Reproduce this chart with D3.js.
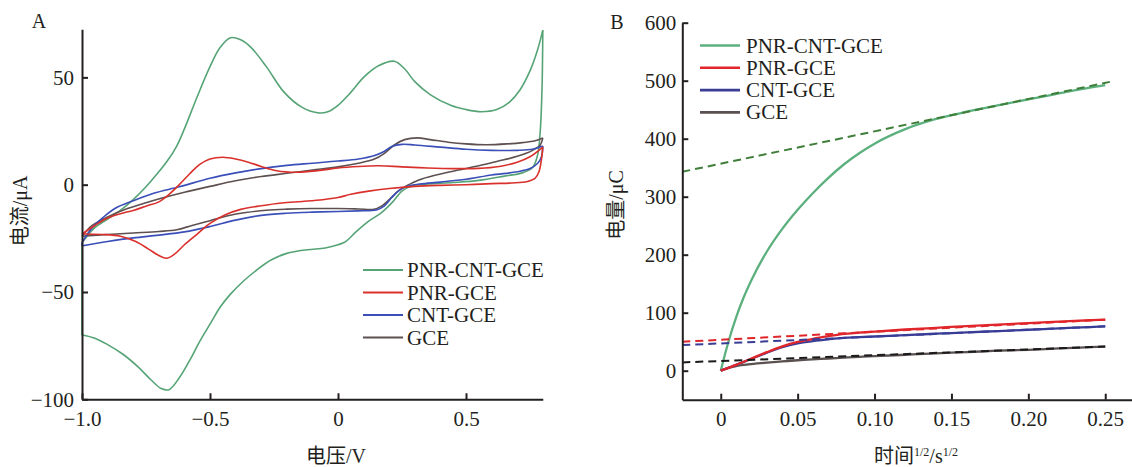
<!DOCTYPE html>
<html>
<head>
<meta charset="utf-8">
<script src="https://cdn.jsdelivr.net/npm/d3@7"></script>
<style>
  html, body { margin: 0; padding: 0; background: #ffffff; }
  svg { display: block; }
  text { font-family: "Liberation Serif", "Noto Sans CJK SC", serif; fill: #231f20; }
</style>
</head>
<body>
<svg id="chart" width="1132" height="467"></svg>
<script>
// ---------- Panel A: cyclic voltammograms (potential V, current µA) ----------
const seriesNames = ["PNR-CNT-GCE", "PNR-GCE", "CNT-GCE", "GCE"];

// anodic (forward) and cathodic (reverse) branches
const pnrCntFwd = [[-1.0,-27],[-0.95,-20],[-0.9,-16],[-0.85,-12],[-0.8,-7],[-0.75,-1],[-0.7,6],[-0.667,11],[-0.63,18],[-0.6,26],[-0.55,41],[-0.5,55],[-0.46,64],[-0.42,68.5],[-0.38,67.5],[-0.34,64],[-0.28,55],[-0.21,43],[-0.14,36],[-0.08,33.5],[-0.04,34],[0.0,37],[0.05,43],[0.1,50],[0.16,55.5],[0.22,57.5],[0.26,54],[0.3,48],[0.36,42],[0.44,37],[0.5,35],[0.56,34],[0.62,35],[0.67,38.5],[0.71,44],[0.75,53],[0.78,63],[0.8,72]];
const pnrCntRev = [[0.8,72],[0.797,45],[0.79,25],[0.78,14],[0.76,8],[0.72,5.5],[0.65,4],[0.55,2],[0.45,1],[0.35,0.3],[0.29,-0.5],[0.25,-3],[0.21,-8.5],[0.17,-13],[0.12,-17],[0.07,-22],[0.03,-26.5],[0.0,-28],[-0.05,-29.5],[-0.12,-30.3],[-0.2,-32],[-0.26,-35],[-0.32,-40],[-0.37,-45],[-0.42,-51],[-0.46,-57],[-0.5,-65],[-0.54,-73],[-0.58,-82],[-0.62,-90],[-0.66,-95.5],[-0.69,-95],[-0.73,-91],[-0.78,-85],[-0.84,-79],[-0.9,-74.5],[-0.95,-71.5],[-1.0,-70]];

const pnrFwd = [[-1.0,-23],[-0.95,-19],[-0.9,-15.5],[-0.85,-13.5],[-0.8,-12],[-0.75,-10],[-0.7,-8],[-0.66,-4.5],[-0.62,0],[-0.58,5],[-0.54,9.5],[-0.5,12],[-0.45,12.8],[-0.4,12],[-0.35,10.5],[-0.3,8.5],[-0.24,6.5],[-0.16,5.8],[-0.08,6.5],[0.0,7.8],[0.08,8.5],[0.16,8.8],[0.25,8.3],[0.35,7.8],[0.45,7.5],[0.55,7.6],[0.63,8.5],[0.7,10.5],[0.75,13],[0.8,17.5]];
const pnrRev = [[0.8,17.5],[0.795,12],[0.785,6],[0.77,3],[0.74,1.5],[0.68,0.8],[0.6,0.5],[0.5,0],[0.4,-0.3],[0.3,-0.8],[0.2,-1.8],[0.12,-3],[0.05,-4.5],[0.0,-6],[-0.06,-7],[-0.14,-7.8],[-0.22,-8.5],[-0.3,-9.8],[-0.38,-11.5],[-0.44,-14],[-0.5,-18],[-0.55,-23],[-0.6,-28],[-0.64,-32.5],[-0.67,-34.3],[-0.7,-33],[-0.74,-30],[-0.79,-26.5],[-0.85,-24],[-0.92,-23.2],[-1.0,-23]];

const cntFwd = [[-1.0,-27],[-0.96,-20],[-0.92,-15.5],[-0.87,-11],[-0.8,-7.5],[-0.72,-4],[-0.62,-1],[-0.5,3],[-0.4,5.5],[-0.3,7.5],[-0.2,9],[-0.1,10],[0.0,11],[0.08,12],[0.14,13.5],[0.18,15.5],[0.21,17.8],[0.25,18.8],[0.3,18.5],[0.4,17.5],[0.5,16.5],[0.6,16],[0.7,16],[0.76,16.5],[0.8,18]];
const cntRev = [[0.8,18],[0.795,13],[0.78,10],[0.75,7.5],[0.7,6],[0.6,4.5],[0.5,2.5],[0.4,1.2],[0.32,0.3],[0.27,-0.8],[0.24,-2.5],[0.21,-6],[0.18,-10],[0.15,-11.8],[0.08,-12.2],[0.0,-12.5],[-0.1,-12.8],[-0.2,-13.3],[-0.3,-14.3],[-0.4,-16.5],[-0.5,-19.5],[-0.6,-22],[-0.7,-23.5],[-0.8,-24.8],[-0.9,-26.5],[-1.0,-28.5]];

const gceFwd = [[-1.0,-24],[-0.96,-19],[-0.9,-15],[-0.83,-11.5],[-0.76,-8.8],[-0.68,-6],[-0.6,-3.5],[-0.5,-0.8],[-0.4,1.8],[-0.3,3.8],[-0.2,5.3],[-0.1,6.8],[0.0,8.3],[0.08,10],[0.14,11.8],[0.18,14.5],[0.22,18.5],[0.26,21],[0.31,21.8],[0.36,21],[0.43,19.8],[0.5,19],[0.58,18.6],[0.66,19],[0.72,19.6],[0.77,20.5],[0.8,21.8]];
const gceRev = [[0.8,21.8],[0.79,18.5],[0.76,16],[0.7,13.2],[0.62,10.8],[0.55,8.8],[0.47,6.8],[0.4,5],[0.33,2.8],[0.29,0.8],[0.26,-1],[0.23,-3.5],[0.2,-7],[0.17,-10],[0.14,-11.5],[0.08,-11.3],[0.0,-11.1],[-0.1,-11.1],[-0.2,-11.4],[-0.28,-11.9],[-0.36,-13],[-0.43,-14.5],[-0.5,-16.8],[-0.57,-19],[-0.63,-21],[-0.7,-21.8],[-0.8,-22.5],[-0.9,-23.2],[-1.0,-24]];

const potentialTicks = [-1.0, -0.5, 0, 0.5];
const potentialTickLabels = ["\u22121.0", "\u22120.5", "0", "0.5"];
const currentTicks = [-100, -50, 0, 50];
const currentTickLabels = ["\u2212100", "\u221250", "0", "50"];

// ---------- Panel B: charge vs t^1/2 ----------
const sqrtTime = [0, 0.005, 0.01, 0.015, 0.02, 0.03, 0.04, 0.05, 0.06, 0.07, 0.08, 0.09, 0.10, 0.12, 0.14, 0.16, 0.18, 0.20, 0.22, 0.24, 0.25];
const chargePnrCnt = [0, 50, 92, 127, 156.5, 205.5, 244.5, 277.5, 306.5, 332.5, 355.5, 375, 391.5, 416.5, 434, 446.5, 457.5, 468, 478, 488, 492.5];
const chargePnr    = [0, 5, 10, 15.5, 21, 32, 42, 49.5, 55, 59.5, 63.5, 65.5, 67.5, 71, 74, 77, 79.5, 82, 84.5, 87, 88];
const chargeCnt    = [0, 5, 10, 15.3, 20.5, 31, 40.5, 47, 51, 54, 56.5, 57.8, 59, 61.5, 63.8, 66, 68.3, 70.6, 73, 75.3, 76.5];
const chargeGce    = [0, 5, 8, 10, 11.5, 14, 16, 18, 19.5, 21, 22.5, 24, 25, 27.5, 30, 32, 34.5, 36, 38.5, 40.5, 41.5];

// linear fits of the long-time part: [start, end] as [t^1/2, Q]
const fitPnrCnt = [[-0.025, 343], [0.253, 498]];
const fitPnr    = [[-0.025, 49.9], [0.25, 88]];
const fitCnt    = [[-0.025, 44.1], [0.25, 76.5]];
const fitGce    = [[-0.025, 14.3], [0.25, 41.6]];

const timeTicks = [0, 0.05, 0.10, 0.15, 0.20, 0.25];
const timeTickLabels = ["0", "0.05", "0.10", "0.15", "0.20", "0.25"];
const chargeTicks = [0, 100, 200, 300, 400, 500, 600];
const chargeTickLabels = ["0", "100", "200", "300", "400", "500", "600"];

// ---------- drawing ----------
const svg = d3.select("#chart");
const axisColor = "#231f20";
const colorsA = ["#56a476", "#d9302c", "#3b4fb8", "#5e5050"];
const colorsB = ["#5bb07e", "#e0262b", "#3a3d96", "#5a5050"];
const fitColors = ["#3f7f3a", "#e0262b", "#3a3d96", "#1a1a1a"];

function styleAxis(g) {
  g.select(".domain").attr("stroke", axisColor).attr("stroke-width", 2);
  g.selectAll(".tick line").attr("stroke", axisColor).attr("stroke-width", 2);
  g.selectAll(".tick text").attr("fill", axisColor)
    .style("font-family", "'Liberation Serif', serif").style("font-size", "21px");
}

// Panel A
const xA = d3.scaleLinear().domain([-1.0, 0.8]).range([82, 542.8]);
const yA = d3.scaleLinear().domain([-100, 72.4]).range([399.3, 29.3]);

const lineA = d3.line().x(d => xA(d[0])).y(d => yA(d[1])).curve(d3.curveCatmullRom.alpha(0.5));
const straightA = d3.line().x(d => xA(d[0])).y(d => yA(d[1]));

const cvBranches = [
  [pnrCntFwd, pnrCntRev],
  [pnrFwd, pnrRev],
  [cntFwd, cntRev],
  [gceFwd, gceRev]
];
const drawOrderA = [0, 3, 2, 1];
const gA = svg.append("g");
drawOrderA.forEach(i => {
  const [fwd, rev] = cvBranches[i];
  [fwd, rev].forEach(b => {
    gA.append("path").attr("d", lineA(b)).attr("fill", "none")
      .attr("stroke", colorsA[i]).attr("stroke-width", 1.6);
  });
  // switching potential at -1.0 V joins the two branches
  gA.append("path").attr("d", straightA([rev[rev.length - 1], fwd[0]])).attr("fill", "none")
    .attr("stroke", colorsA[i]).attr("stroke-width", 1.6);
});

const axAx = svg.append("g").attr("transform", `translate(0,${yA(-100)})`)
  .call(d3.axisBottom(xA).tickValues(potentialTicks)
    .tickFormat((d, i) => potentialTickLabels[i]).tickSizeInner(-6).tickSizeOuter(0).tickPadding(12));
styleAxis(axAx);
const ayAx = svg.append("g").attr("transform", `translate(${xA(-1.0)},0)`)
  .call(d3.axisLeft(yA).tickValues(currentTicks)
    .tickFormat((d, i) => currentTickLabels[i]).tickSizeInner(-6).tickSizeOuter(0).tickPadding(8));
styleAxis(ayAx);

svg.append("text").attr("x", 39).attr("y", 28).attr("text-anchor", "middle")
  .style("font-size", "20px").text("A");
svg.append("text").attr("x", 336).attr("y", 463).attr("text-anchor", "middle")
  .style("font-size", "20px").text("电压/V");
svg.append("text").attr("transform", "translate(27,211) rotate(-90)").attr("text-anchor", "middle")
  .style("font-size", "20px").text("电流/μA");

const legA = svg.append("g");
seriesNames.forEach((name, i) => {
  const y = 270 + i * 22.5;
  legA.append("line").attr("x1", 363).attr("x2", 403).attr("y1", y).attr("y2", y)
    .attr("stroke", colorsA[i]).attr("stroke-width", 2.2);
  legA.append("text").attr("x", 407).attr("y", y + 7).style("font-size", "21px").text(name);
});

// Panel B
const xB = d3.scaleLinear().domain([-0.025, 0.2674]).range([682.3, 1132]);
const yB = d3.scaleLinear().domain([-50, 600]).range([399.7, 22.7]);

const lineB = d3.line().x(d => xB(d[0])).y(d => yB(d[1])).curve(d3.curveMonotoneX);
const chargeSeries = [chargePnrCnt, chargePnr, chargeCnt, chargeGce];
const fits = [fitPnrCnt, fitPnr, fitCnt, fitGce];
const gB = svg.append("g");
[0, 3, 2, 1].forEach(i => {
  const pts = sqrtTime.map((t, k) => [t, chargeSeries[i][k]]);
  gB.append("path").attr("d", lineB(pts)).attr("fill", "none")
    .attr("stroke", colorsB[i]).attr("stroke-width", 2.3);
});
[0, 3, 2, 1].forEach(i => {
  gB.append("path").attr("d", d3.line().x(d => xB(d[0])).y(d => yB(d[1]))(fits[i]))
    .attr("fill", "none").attr("stroke", fitColors[i]).attr("stroke-width", 2)
    .attr("stroke-dasharray", "8,5");
});

const bxAx = svg.append("g").attr("transform", `translate(0,${yB(-50)})`)
  .call(d3.axisBottom(xB).tickValues(timeTicks)
    .tickFormat((d, i) => timeTickLabels[i]).tickSizeInner(-6).tickSizeOuter(0).tickPadding(11));
styleAxis(bxAx);
const byAx = svg.append("g").attr("transform", `translate(${xB(-0.025)},0)`)
  .call(d3.axisLeft(yB).tickValues(chargeTicks)
    .tickFormat((d, i) => chargeTickLabels[i]).tickSizeInner(-6).tickSizeOuter(0).tickPadding(6));
styleAxis(byAx);

svg.append("text").attr("x", 617).attr("y", 29).attr("text-anchor", "middle")
  .style("font-size", "20px").text("B");
const xtB = svg.append("text").attr("x", 916).attr("y", 463).attr("text-anchor", "middle")
  .style("font-size", "20px");
xtB.append("tspan").text("时间");
xtB.append("tspan").attr("dy", -7).style("font-size", "12px").text("1/2");
xtB.append("tspan").attr("dy", 7).text("/s");
xtB.append("tspan").attr("dy", -7).style("font-size", "12px").text("1/2");
svg.append("text").attr("transform", "translate(623,205) rotate(-90)").attr("text-anchor", "middle")
  .style("font-size", "20px").text("电量/μC");

const legB = svg.append("g");
seriesNames.forEach((name, i) => {
  const y = 45.5 + i * 22.3;
  legB.append("line").attr("x1", 700).attr("x2", 740).attr("y1", y).attr("y2", y)
    .attr("stroke", colorsB[i]).attr("stroke-width", 2.6);
  legB.append("text").attr("x", 746).attr("y", y + 7).style("font-size", "21px").text(name);
});
</script>
</body>
</html>
